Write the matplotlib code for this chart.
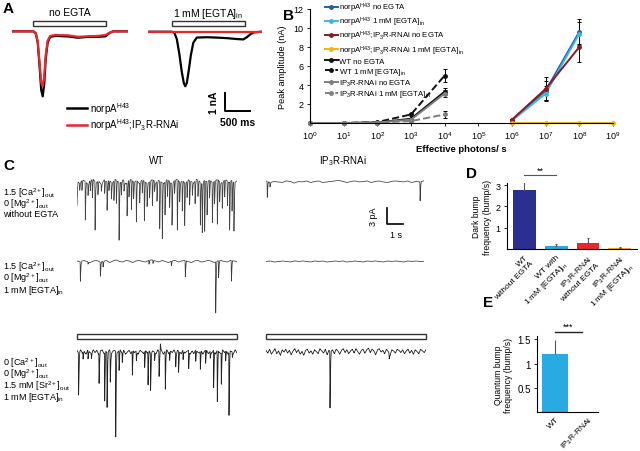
import numpy as np
import matplotlib
matplotlib.use('Agg')
import matplotlib.pyplot as plt
from matplotlib.patches import Rectangle
from matplotlib.lines import Line2D

plt.rcParams['font.family'] = ['Liberation Sans', 'DejaVu Sans']
plt.rcParams['mathtext.default'] = 'regular'
plt.rcParams['axes.linewidth'] = 0.8

W, H = 640, 452
fig = plt.figure(figsize=(W / 100, H / 100), dpi=100)


def add_px(x0, y0, w, h):
    return fig.add_axes([x0 / W, 1 - (y0 + h) / H, w / W, h / H])


def ftext(x, y, s, **kw):
    fig.text(x / W, 1 - y / H, s, **kw)


# ---------------- Panel A data (s, nA) ----------------
a_stim = [0.0, 1.46]
a_t_left = [-0.43, 0.0, 0.05, 0.09, 0.13, 0.16, 0.19, 0.22, 0.25, 0.29, 0.34, 0.45,
            0.7, 0.9, 1.1, 1.3, 1.45, 1.52, 1.6, 1.9]
a_i_left_black = [0, 0, -0.1, -0.6, -2.0, -3.2, -3.55, -2.9, -1.5, -0.6, -0.3, -0.25,
                  -0.28, -0.35, -0.3, -0.3, -0.27, -0.1, 0, 0]
a_i_left_red = [0, 0, -0.1, -0.55, -1.8, -2.8, -3.0, -2.5, -1.3, -0.5, -0.25, -0.2,
                -0.22, -0.3, -0.27, -0.25, -0.2, -0.08, 0, 0]
a_t_right = [-0.47, 0.0, 0.05, 0.1, 0.15, 0.2, 0.24, 0.27, 0.3, 0.34, 0.38, 0.43, 0.5,
             0.7, 0.9, 1.1, 1.3, 1.43, 1.5, 1.58, 1.65, 1.8]
a_i_right_black = [0, 0, -0.05, -0.4, -1.2, -2.2, -2.8, -2.98, -2.8, -2.1, -1.3, -0.6,
                   -0.32, -0.3, -0.32, -0.35, -0.4, -0.42, -0.3, -0.12, -0.03, 0]
a_i_right_red = [0] * len(a_t_right)

# ---------------- Panel B data ----------------
b_labels = ['norpA$^{H43}$ no EGTA', 'norpA$^{H43}$ 1 mM [EGTA]$_{in}$',
            'norpA$^{H43}$;IP$_3$R-RNAi no EGTA', 'norpA$^{H43}$;IP$_3$R-RNAi 1 mM [EGTA]$_{in}$',
            'WT no EGTA', 'WT 1 mM [EGTA]$_{in}$', 'IP$_3$R-RNAi no EGTA',
            'IP$_3$R-RNAi 1 mM [EGTA]$_{in}$']
b_x_low = [1, 10, 100, 1000, 10000]
b_x_high = [1e6, 1e7, 1e8]
b_x_orange = [1e6, 1e7, 1e8, 1e9]
b_norpa_no = [0.3, 3.4, 9.6]
b_norpa_no_err = [0.1, 1.0, 1.3]
b_norpa_egta = [0.25, 3.1, 9.4]
b_norpa_egta_err = [0.1, 0.8, 1.2]
b_norpa_ip3r_no = [0.35, 3.6, 8.0]
b_norpa_ip3r_no_err = [0.1, 1.2, 1.6]
b_norpa_ip3r_egta = [0.05, 0.05, 0.05, 0.05]
b_wt_no = [0, 0, 0.05, 0.45, 3.3]
b_wt_no_err = [0, 0, 0, 0.1, 0.4]
b_wt_egta = [0, 0, 0.1, 0.9, 5.0]
b_wt_egta_err = [0, 0, 0, 0.15, 0.7]
b_ip3r_no = [0, 0, 0.05, 0.35, 3.1]
b_ip3r_no_err = [0, 0, 0, 0.1, 0.35]
b_ip3r_egta = [0, 0, 0.05, 0.2, 0.9]
b_ip3r_egta_err = [0, 0, 0, 0.05, 0.4]

# ---------------- Panel C data (s, pA) ----------------
c_wt1_t = [0.0, 0.17, 0.31, 0.52, 0.69, 0.83, 0.96, 1.13, 1.31, 1.52, 1.73, 1.88, 2.0, 2.15,
           2.31, 2.46, 2.63, 2.77, 2.94, 3.13, 3.25, 3.4, 3.54, 3.71, 3.92, 4.08, 4.21, 4.38,
           4.54, 4.71, 4.85, 5.0, 5.17, 5.33, 5.5, 5.65, 5.79, 5.94, 6.1, 6.27, 6.42, 6.58,
           6.73, 6.88, 7.04, 7.21, 7.38, 7.56, 7.71, 7.83, 7.98, 8.13, 8.29, 8.46, 8.6, 8.77,
           8.92, 9.08, 9.23, 9.4, 9.54, 9.69, 9.81]
c_wt1_a = [4.5, 1.2, 1.8, 7.0, 2.1, 1.8, 3.3, 8.8, 2.4, 1.2, 2.4, 5.2, 1.8, 3.0, 3.6, 4.2,
           10.6, 2.4, 1.8, 6.1, 3.0, 5.5, 3.0, 7.6, 3.6, 2.4, 7.3, 4.2, 3.0, 4.8, 1.8, 3.6,
           8.8, 10.3, 6.1, 3.0, 4.8, 7.6, 2.4, 9.4, 3.6, 5.5, 7.9, 3.0, 4.5, 2.4, 4.2, 3.0,
           7.9, 9.1, 9.4, 6.1, 3.3, 7.3, 4.2, 8.2, 3.6, 4.8, 3.0, 4.5, 8.8, 5.5, 8.8]
c_wt1_noise = [0.2, -0.3, 0.4, 0.1, -0.4, 0.3, 0.5, -0.2, 0.2, -0.5, 0.4, 0.0, 0.3, -0.3,
               0.5, 0.1, -0.2, 0.4, -0.4, 0.2, 0.5, -0.1, 0.3, -0.3, 0.4, 0.1, -0.4, 0.2,
               0.5, -0.2, 0.3, 0.0, -0.3, 0.4, 0.2, -0.4, 0.3, 0.5, -0.1, 0.2, -0.3, 0.4,
               0.1, -0.2, 0.5, 0.2, -0.4, 0.3, 0.0, 0.4, -0.2, 0.3, 0.5, -0.3, 0.2, 0.4,
               -0.1, 0.3, -0.2, 0.2]
c_wt2_t = [0.21, 0.69, 1.46, 1.63, 4.5, 4.75, 5.9, 6.77, 8.67, 8.85, 9.65]
c_wt2_a = [3.5, 0.4, 2.6, 1.0, 0.7, 0.6, 0.85, 3.0, 9.4, 3.1, 3.75]
c_wt2_noise = [0.1, -0.1, 0.2, 0.0, -0.2, 0.1, 0.2, -0.1, 0.0, 0.2, -0.2, 0.1, 0.3, 0.0,
               -0.1, 0.2, 0.1, -0.2, 0.1, 0.2, 0.0, -0.1, 0.2, 0.3, 0.1, -0.1, 0.2, 0.0,
               -0.2, 0.1, 0.2, -0.1, 0.1, 0.2, 0.0, -0.2, 0.1, 0.2, -0.1, 0.0, 0.2, 0.1,
               -0.2, 0.1, 0.2, 0.0, -0.1, 0.2, 0.1, 0.0]
c_wt3_t = [0.1, 0.38, 0.69, 0.9, 1.38, 1.73, 1.88, 2.08, 2.42, 2.63, 2.83, 3.46, 3.71, 4.23,
           4.44, 4.6, 4.85, 5.13, 5.21, 5.52, 5.79, 6.17, 6.35, 6.63, 6.98, 7.42, 7.71, 8.04,
           8.33, 8.54, 8.77, 9.02, 9.29, 9.5, 9.71]
c_wt3_a = [7.6, 1.2, 1.5, 0.9, 5.5, 8.8, 10.0, 5.5, 15.5, 3.6, 1.8, 4.5, 1.8, 3.0, 6.1, 6.7,
           1.5, 4.5, -1.5, 7.0, 1.5, 2.4, 3.9, 1.8, 3.3, 2.1, 3.3, 2.4, 1.2, 7.0, 9.4, 5.8,
           1.8, 11.5, 0.9]
c_wt3_noise = [0.3, -0.3, 0.4, -0.2, 0.1, -0.4, 0.3, 0.0, -0.3, 0.4, -0.1, 0.3, -0.4, 0.2,
               0.4, -0.3, 0.1, -0.2, 0.4, -0.4, 0.2, 0.3, -0.3, 0.1, 0.4, -0.2, 0.3, -0.4,
               0.0, 0.3, -0.3, 0.4, -0.1, 0.2, -0.4, 0.3, 0.1, -0.3, 0.4, -0.2, 0.3, -0.4,
               0.2, 0.0, -0.3, 0.4, -0.2, 0.3, -0.4, 0.1, 0.4, -0.3, 0.2, -0.1, 0.4, -0.4,
               0.3, 0.0, -0.3, 0.4, -0.2, 0.1, 0.3, -0.4, 0.2, -0.3, 0.4, 0.0, -0.2, 0.3,
               -0.4, 0.2, 0.4, -0.3, 0.1, -0.2, 0.4, -0.4, 0.3, 0.0, -0.3, 0.4, -0.1, 0.3,
               -0.4, 0.2, 0.1, -0.3, 0.4, -0.2]
c_ip1_t = [0.08, 0.25, 9.63]
c_ip1_a = [2.9, 0.8, 3.5]
c_ip1_noise = [0.2, -0.1, 0.1, 0.0, -0.1, 0.2, 0.1, -0.2, 0.1, 0.0, 0.2, -0.1, 0.1, 0.2,
               -0.1, 0.0, 0.1, 0.2, 0.3, 0.1, -0.1, 0.1, 0.2, 0.0, 0.1, 0.2, -0.1, 0.1,
               0.2, 0.0, -0.1, 0.1, 0.2, 0.1, 0.0, 0.2, -0.1, 0.1, 0.0, 0.2]
c_ip2_t = []
c_ip2_a = []
c_ip2_noise = [0.0, 0.1, -0.1, 0.0, 0.1, 0.0, -0.1, 0.1, 0.0, 0.1, 0.0, -0.1, 0.1, 0.0,
               0.1, -0.1, 0.0, 0.1, 0.0, 0.1, -0.1, 0.0, 0.1, 0.0, -0.1, 0.1, 0.0, 0.1,
               0.0, -0.1, 0.1, 0.0, 0.1, 0.0, -0.1, 0.1, 0.0, 0.1, 0.0, 0.0]
c_ip3_t = [4.0, 7.7]
c_ip3_a = [10.4, 1.0]
c_ip3_noise = [0.3, -0.2, 0.5, -0.4, 0.1, 0.6, -0.3, 0.2, -0.6, 0.4, 0.0, 0.5, -0.2, 0.3,
               -0.5, 0.2, 0.6, -0.1, 0.4, -0.4, 0.1, -0.6, 0.3, 0.5, -0.2, 0.2, -0.4, 0.4,
               0.1, -0.3, 0.6, 0.2, -0.2, 0.5, -0.5, 0.3, 0.0, 0.4, -0.3, 0.5, 0.2, -0.4,
               0.3, 0.6, -0.1, 0.4, -0.3, 0.2, 0.5, -0.2, 0.6, 0.1, -0.4, 0.3, 0.5, -0.2,
               0.4, 0.7, -0.1, 0.5, 0.2, -0.5, 0.4, 0.6, 0.0, 0.3, -0.3, 0.5, 0.1, -0.6,
               0.4, 0.2, -0.2, 0.5, 0.3, -0.1, 0.4, -0.3, 0.2, 0.5, -0.2, 0.3, -0.4, 0.4,
               0.1, -0.3, 0.5, 0.2, -0.1, 0.4]
c_row_labels = [
    ['1.5 [Ca$^{2+}$]$_{out}$', '0 [Mg$^{2+}$]$_{out}$', 'without EGTA'],
    ['1.5 [Ca$^{2+}$]$_{out}$', '0 [Mg$^{2+}$]$_{out}$', '1 mM [EGTA]$_{in}$'],
    ['0 [Ca$^{2+}$]$_{out}$', '0 [Mg$^{2+}$]$_{out}$', '1.5 mM [Sr$^{2+}$]$_{out}$',
     '1 mM [EGTA]$_{in}$'],
]

# ---------------- Panel D / E data ----------------
d_labels = ['WT\nwithout EGTA', 'WT with\n1 mM [EGTA]$_{in}$', 'IP$_3$R-RNAi\nwithout EGTA',
            'IP$_3$R-RNAi\n1 mM [EGTA]$_{in}$']
d_values = [2.75, 0.15, 0.3, 0.05]
d_err = [0.5, 0.1, 0.2, 0.03]
d_colors = ['#2b2f8f', '#29abe2', '#e8262b', '#f7a823']
e_labels = ['WT', 'IP$_3$R-RNAi']
e_values = [1.2, 0.0]
e_err = [0.28, 0.0]
e_colors = ['#29abe2', '#29abe2']

RED = '#e8262b'

# ================= Panel A =================
axL = add_px(11.7, 18.6, 116.5, 83.3)
axL.set_xlim(-0.43, 1.9)
axL.set_ylim(-3.8, 0.75)
axL.axis('off')
axL.plot(a_t_left, a_i_left_black, color='black', lw=1.6)
axL.plot(a_t_left, a_i_left_red, color=RED, lw=1.6)
axL.add_patch(Rectangle((a_stim[0], 0.29), a_stim[1] - a_stim[0], 0.27, fill=False,
                        ec='#333333', lw=1.0, clip_on=False))
axL.text(np.mean(a_stim), 1.05, 'no EGTA', ha='center', va='center', fontsize=7.5)

axR = add_px(148.3, 19.0, 113.5, 96.1)
axR.set_xlim(-0.47, 1.8)
axR.set_ylim(-4.5, 0.75)
axR.axis('off')
axR.plot(a_t_right, a_i_right_black, color='black', lw=1.6)
axR.plot(a_t_right, a_i_right_red, color=RED, lw=1.6)
axR.add_patch(Rectangle((a_stim[0], 0.29), a_stim[1] - a_stim[0], 0.27, fill=False,
                        ec='#333333', lw=1.0, clip_on=False))
axR.text(np.mean(a_stim), 1.05, '1 mM [EGTA]$_{in}$', ha='center', va='center', fontsize=7.5)
# scale bar 1 nA / 500 ms
axR.plot([1.07, 1.07, 1.57], [-3.33, -4.33, -4.33], color='black', lw=1.4, clip_on=False)
axR.text(0.85, -3.85, '1 nA', rotation=90, ha='center', va='center', fontsize=7.5,
         fontweight='bold')
axR.text(1.32, -4.95, '500 ms', ha='center', va='center', fontsize=7.5, fontweight='bold',
         clip_on=False)

axL.legend(handles=[Line2D([], [], color='black', lw=1.8), Line2D([], [], color=RED, lw=1.8)],
           labels=['norpA$^{H43}$', 'norpA$^{H43}$;IP$_3$R-RNAi'], loc='upper left',
           bbox_to_anchor=(67 / W, 1 - 101 / H), bbox_transform=fig.transFigure,
           frameon=False, fontsize=7, handlelength=2.1, handletextpad=0.3,
           labelspacing=0.05, borderpad=0, borderaxespad=0)

# ================= Panel B =================
axB = add_px(310, 10, 303, 114)
axB.set_xscale('log')
axB.set_xlim(1, 1e9)
axB.set_ylim(0, 12)
for s in ['top', 'right']:
    axB.spines[s].set_visible(False)
axB.set_xticks([10 ** i for i in range(10)])
axB.set_xticklabels(['$10^{%d}$' % i for i in range(10)])
axB.minorticks_off()
axB.set_yticks([2, 4, 6, 8, 10, 12])
axB.tick_params(direction='out', length=2.5, labelsize=6.5, pad=2, width=0.6)
axB.set_xlabel('Effective photons/ s', fontsize=6.8, fontweight='bold', labelpad=2)
axB.set_ylabel('Peak amplitude (nA)', fontsize=6.6, labelpad=5)

ekw = dict(ecolor='black', elinewidth=0.7, capsize=1.5, capthick=0.7, markersize=2.5)
series = [
    (b_x_high, b_norpa_no, b_norpa_no_err, '#1f5fad', '-'),
    (b_x_high, b_norpa_egta, b_norpa_egta_err, '#3fb4e8', '-'),
    (b_x_high, b_norpa_ip3r_no, b_norpa_ip3r_no_err, '#8b1a1a', '-'),
    (b_x_orange, b_norpa_ip3r_egta, [0] * 4, '#f5b21b', '-'),
    (b_x_low, b_wt_no, b_wt_no_err, '#111111', '-'),
    (b_x_low, b_wt_egta, b_wt_egta_err, '#111111', '--'),
    (b_x_low, b_ip3r_no, b_ip3r_no_err, '#7f7f7f', '-'),
    (b_x_low, b_ip3r_egta, b_ip3r_egta_err, '#7f7f7f', '--'),
]
handles = []
for (xs, ys, es, col, ls) in series:
    axB.errorbar(xs, ys, yerr=es, color=col, ls=ls, lw=1.4, marker='o', clip_on=False, **ekw)
    handles.append(Line2D([], [], color=col, ls=ls, lw=1.4, marker='o', markersize=2.5))
axB.legend(handles=handles, labels=b_labels, loc='upper left', bbox_to_anchor=(0.05, 1.07),
           frameon=False, fontsize=5.6, handlelength=1.6, handletextpad=0.2, labelspacing=0.1,
           borderpad=0, borderaxespad=0)

# ================= Panel C =================
def build_trace(t_end, noise, spike_t, spike_a):
    t = np.linspace(0, t_end, 8000)
    y = np.interp(t, np.linspace(0, t_end, len(noise)), noise)
    for ti, ai in zip(spike_t, spike_a):
        y = y - ai * np.interp(t - ti, [-0.015, 0, 0.035, 0.07], [0, 1, 0.25, 0],
                               left=0, right=0)
    return t, y

rows = [
    (172, 77, (-12, 2), [(77, 10.0, c_wt1_noise, c_wt1_t, c_wt1_a, '#444444', 0.55),
                         (266, 9.85, c_ip1_noise, c_ip1_t, c_ip1_a, '#3c3c3c', 0.55)]),
    (251.5, 68.75, (-10.5, 2), [(77, 10.0, c_wt2_noise, c_wt2_t, c_wt2_a, '#3c3c3c', 0.55),
                                (266, 9.85, c_ip2_noise, c_ip2_t, c_ip2_a, '#3c3c3c', 0.55)]),
    (331, 110, (-16, 4), [(77, 10.0, c_wt3_noise, c_wt3_t, c_wt3_a, '#222222', 0.6),
                          (266, 10.0, c_ip3_noise, c_ip3_t, c_ip3_a, '#222222', 0.6)]),
]
c_axes = []
for ri, (top, hgt, ylim, cols) in enumerate(rows):
    row_axes = []
    for (x0, tend, noise, st, sa, col, lw) in cols:
        ax = add_px(x0, top, 160, hgt)
        ax.set_xlim(0, 10)
        ax.set_ylim(*ylim)
        ax.axis('off')
        t, y = build_trace(tend, noise, st, sa)
        ax.plot(t, y, color=col, lw=lw)
        if ri == 2:
            ax.add_patch(Rectangle((0, 2.4), tend, 0.9, fill=False, ec='#333333', lw=1.0,
                                   clip_on=False))
        row_axes.append(ax)
    c_axes.append(row_axes)

# scale bar in C
axs = c_axes[0][1]
axs.plot([7.54, 7.54, 8.54], [-4.64, -7.64, -7.64], color='black', lw=1.2, clip_on=False)
axs.text(6.75, -6.1, '3 pA', rotation=90, ha='center', va='center', fontsize=6.5)
axs.text(8.1, -9.6, '1 s', ha='center', va='center', fontsize=6.5)

ftext(157, 161, 'WT', ha='center', va='center', fontsize=7)
ftext(343, 161, 'IP$_3$R-RNAi', ha='center', va='center', fontsize=7)

row_label_top = [186, 260, 356]
for labs, yt in zip(c_row_labels, row_label_top):
    ftext(3, yt, '\n'.join(labs), ha='left', va='top', fontsize=6.5, linespacing=0.8)

# ================= Panel D =================
axD = add_px(507, 184, 130, 66)
xd = np.arange(len(d_values))
axD.bar(xd, d_values, width=0.72, color=d_colors,
        yerr=[[0] * len(d_err), d_err],
        error_kw=dict(ecolor='#555555', elinewidth=0.8, capsize=1, capthick=0.8))
axD.set_xlim(-0.55, 3.54)
axD.set_ylim(0, 3.1)
for s in ['top', 'right']:
    axD.spines[s].set_visible(False)
axD.set_yticks([1, 2, 3])
axD.set_xticks(xd)
axD.set_xticklabels(d_labels, rotation=45, ha='right', rotation_mode='anchor',
                    fontsize=6, multialignment='right')
axD.tick_params(axis='y', direction='out', length=2.5, labelsize=6.5, pad=2, width=0.6)
axD.tick_params(axis='x', length=0, pad=3)
axD.set_ylabel('Dark bump\nfrequency (bump/s)', fontsize=6.2, labelpad=3)
axD.plot([0, 1], [3.47, 3.47], color='#555555', lw=0.8, clip_on=False)
axD.text(0.5, 3.5, '**', ha='center', va='bottom', fontsize=6.5)

# ================= Panel E =================
axE = add_px(537, 337, 61, 76)
xe = np.arange(len(e_values))
axE.bar(xe, e_values, width=0.8, color=e_colors,
        yerr=[[0] * len(e_err), e_err],
        error_kw=dict(ecolor='#555555', elinewidth=0.8, capsize=0))
axE.set_xlim(-0.55, 1.3)
axE.set_ylim(0, 1.57)
for s in ['top', 'right']:
    axE.spines[s].set_visible(False)
axE.set_yticks([0.5, 1, 1.5])
axE.set_yticklabels(['0.5', '1', '1.5'])
axE.set_xticks(xe)
axE.set_xticklabels(e_labels, rotation=45, ha='right', rotation_mode='anchor', fontsize=6)
axE.tick_params(axis='y', direction='out', length=2.5, labelsize=7, pad=2, width=0.6)
axE.tick_params(axis='x', length=0, pad=2)
axE.set_ylabel('Quantum bump\nfrequency (bump/s)', fontsize=6.2, labelpad=3)
axE.plot([0, 0.8], [1.65, 1.65], color='#222222', lw=1.0, clip_on=False)
axE.text(0.4, 1.68, '***', ha='center', va='bottom', fontsize=6.5)

# ================= Panel letters =================
for lab, x, y in [('A', 3, 2), ('B', 283, 9), ('C', 3, 159), ('D', 466, 167), ('E', 483, 296)]:
    ftext(x, y, lab, ha='left', va='top', fontsize=11, fontweight='bold')

fig.savefig('out.png', dpi=100)
